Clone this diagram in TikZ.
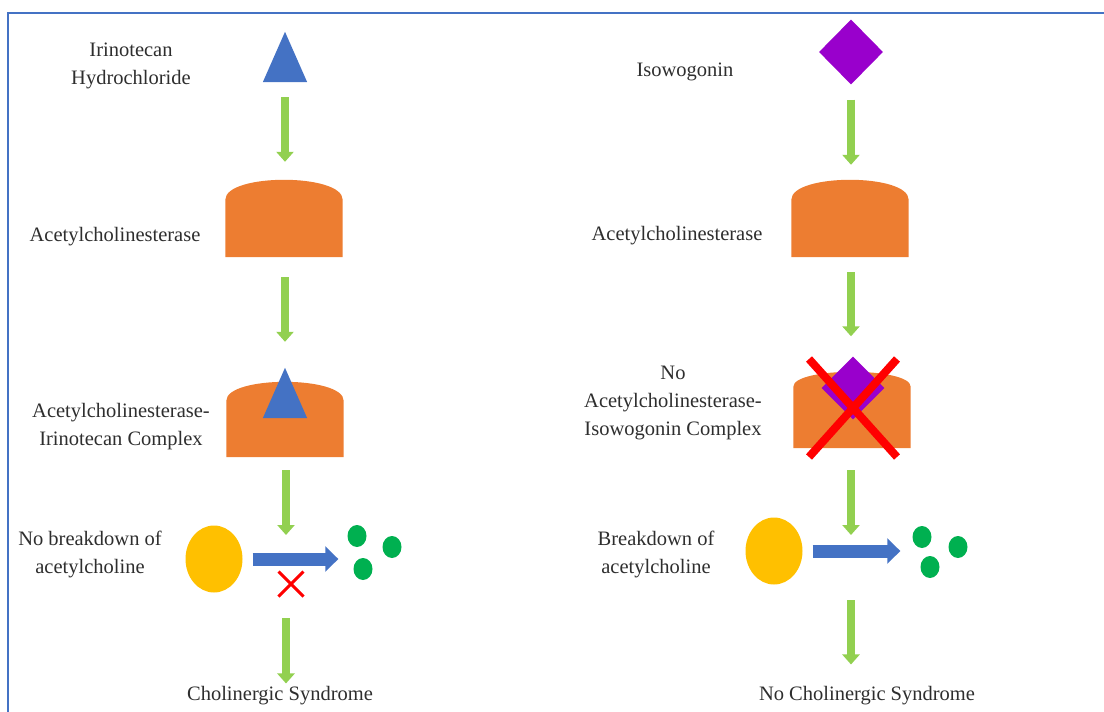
\documentclass[tikz,border=0pt]{standalone}
\usepackage{fontspec}
\setmainfont{Liberation Serif}
\usetikzlibrary{arrows.meta,shapes.geometric,shapes.misc}

\definecolor{frameblue}{HTML}{4472C4}
\definecolor{arrowgreen}{HTML}{92D050}
\definecolor{enzorange}{HTML}{ED7D31}
\definecolor{achyellow}{HTML}{FFC000}
\definecolor{dotgreen}{HTML}{00B050}
\definecolor{drugpurple}{HTML}{9900CC}
\definecolor{txtgray}{HTML}{2E2E2E}

% arched enzyme on an empty box node: #1 name, #2 arch height, #3 control lift
\newcommand{\enzfill}[3]{%
  \fill[enzorange] (#1.south west) -- ([yshift=-#2pt]#1.north west)
    .. controls ([yshift=#3pt]#1.north west) and ([yshift=#3pt]#1.north east)
    .. ([yshift=-#2pt]#1.north east) -- (#1.south east) -- cycle;}
% triangle on an empty box node
\newcommand{\trifill}[1]{%
  \fill[frameblue] (#1.south west) -- (#1.south east) -- (#1.north) -- cycle;}

\begin{document}
\begin{tikzpicture}[x=1pt,y=-1pt,
    box/.style={inner sep=0pt},
    lbl/.style={font=\fontsize{20.5}{28}\selectfont, text=txtgray, align=center, inner sep=0pt},
    garrow/.style={draw=arrowgreen, line width=8pt, -{Triangle[width=17pt,length=10pt]}},
    barrow/.style={draw=frameblue, line width=13pt, -{Triangle[width=25pt,length=13pt]}},
    ach/.style={ellipse, fill=achyellow, inner sep=0pt, minimum width=57pt, minimum height=67pt},
    prod/.style={ellipse, fill=dotgreen, inner sep=0pt, minimum width=19pt, minimum height=22pt}]
    \useasboundingbox (0,0) rectangle (1104,712);
    \draw[frameblue, line width=2pt] (8,712) -- (8,13) -- (1104,13);

    % left: irinotecan
    \node[box, minimum width=44pt, minimum height=50pt] (irino) at (285,57) {};
    \trifill{irino}
    \node[lbl] at (131,66) {Irinotecan\\Hydrochloride};

    \node[box, minimum width=117pt, minimum height=77pt] (ache1) at (284,218.5) {};
    \enzfill{ache1}{20}{6.7}
    \node[lbl] at (115,237) {Acetylcholinesterase};

    \node[box, minimum width=117pt, minimum height=75pt] (cplx1) at (285,419.5) {};
    \enzfill{cplx1}{19}{6.3}
    \node[box, minimum width=44pt, minimum height=50pt] (irino2) at (285,393) {};
    \trifill{irino2}
    \node[lbl] at (121,427) {Acetylcholinesterase-\\Irinotecan Complex};

    \node[ach] (ach1) at (214,559) {};
    \node[prod] (d1a) at (357,536) {};
    \node[prod] (d1b) at (392,547) {};
    \node[prod] (d1c) at (363,569) {};
    \node[cross out, draw=red, line width=3pt, inner sep=0pt, minimum size=22pt] (nox) at (291,584) {};
    \coordinate (mid1) at (286,558);
    \node[lbl] at (90,554) {No breakdown of\\acetylcholine};
    \node[lbl] (syn1) at (280,696) {Cholinergic Syndrome};

    \draw[garrow, shorten <=15pt, shorten >=18pt] (irino.south) -- (irino.south |- ache1.north);
    \draw[garrow, shorten <=20pt, shorten >=26pt] (irino2.north |- ache1.south) -- (irino2.north);
    \draw[garrow, shorten <=13pt, shorten >=23pt] (mid1 |- cplx1.south) -- (mid1);
    \draw[garrow, shorten <=60pt, shorten >=3pt] (mid1) -- (mid1 |- syn1.north);
    \draw[barrow, shorten <=10pt, shorten >=9pt] (ach1.east) -- (ach1.east -| d1a.west);

    % right: isowogonin
    \node[diamond, fill=drugpurple, inner sep=0pt, minimum width=64pt, minimum height=65pt] (isow) at (851,52) {};
    \node[lbl] at (685,72) {Isowogonin};

    \node[box, minimum width=117pt, minimum height=77pt] (ache2) at (850,218.5) {};
    \enzfill{ache2}{20}{6.7}
    \node[lbl] at (677,236) {Acetylcholinesterase};

    \node[box, minimum width=117pt, minimum height=76pt] (cplx2) at (852,410) {};
    \enzfill{cplx2}{15}{5}
    \node[diamond, fill=drugpurple, inner sep=0pt, minimum width=63pt, minimum height=63pt] (isow2) at (853,388) {};
    \node[cross out, draw=red, line width=8pt, inner sep=0pt, minimum width=80pt, minimum height=90pt] (bigx) at (853,408) {};
    \node[lbl] at (673,403) {No\\Acetylcholinesterase-\\Isowogonin Complex};

    \node[ach] (ach2) at (774,551) {};
    \node[prod] (d2a) at (922,537) {};
    \node[prod] (d2b) at (958,547) {};
    \node[prod] (d2c) at (930,567) {};
    \coordinate (mid2) at (851,557);
    \node[lbl] at (656,554) {Breakdown of\\acetylcholine};
    \node[lbl] (syn2) at (867,696) {No Cholinergic Syndrome};

    \draw[garrow, shorten <=15pt, shorten >=15pt] (isow.south) -- (isow.south |- ache2.north);
    \draw[garrow, shorten <=15pt, shorten >=20pt] (mid2 |- ache2.south) -- (mid2 |- isow2.north);
    \draw[garrow, shorten <=22pt, shorten >=22pt] (mid2 |- cplx2.south) -- (mid2);
    \draw[garrow, shorten <=43pt, shorten >=22pt] (mid2) -- (mid2 |- syn2.north);
    \draw[barrow, shorten <=10pt, shorten >=12pt] (ach2.east) -- (ach2.east -| d2a.west);
\end{tikzpicture}
\end{document}
